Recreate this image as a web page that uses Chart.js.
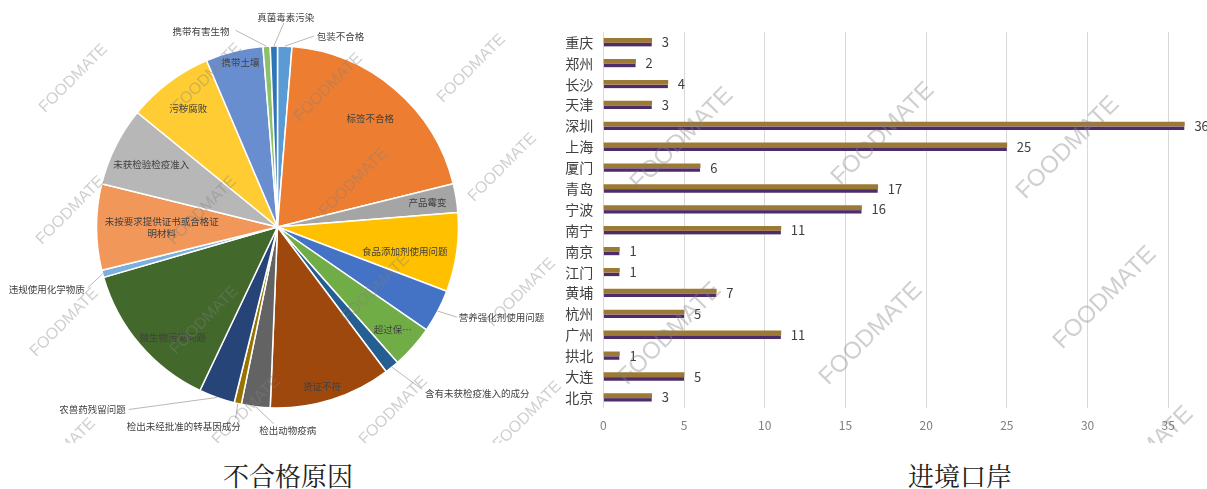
<!DOCTYPE html>
<html>
<head>
<meta charset="utf-8">
<script src="https://cdn.jsdelivr.net/npm/chart.js"></script>
<style>
  html, body { margin: 0; padding: 0; background: #fff; overflow: hidden; }
  body { width: 1207px; height: 489px; position: relative; }
  canvas { position: absolute; top: 0; }
  #pieChart { left: 0; }
  #portChart { left: 560px; }
  .title { position: absolute; top: 456px; font-family: "Noto Serif CJK SC", "Noto Sans CJK SC", serif; font-size: 26px; color: #222; transform: translateX(-50%); white-space: nowrap; }
  #marks { position: absolute; left: 0; top: 0; width: 1207px; height: 443px; overflow: hidden; pointer-events: none; }
  .wm { position: absolute; font-family: "Liberation Sans", Arial, sans-serif; color: rgba(128, 128, 128, 0.38); white-space: nowrap; transform: translate(-50%, -50%) rotate(-45deg); }
</style>
</head>
<body>
<canvas id="pieChart" width="560" height="443"></canvas>
<canvas id="portChart" width="647" height="443"></canvas>
<div class="title" style="left:288px">不合格原因</div>
<div class="title" style="left:960px">进境口岸</div>
<div id="marks"></div>
<script>
// 不合格原因 (pie)
const reasonLabels = ['包装不合格', '标签不合格', '产品霉变', '食品添加剂使用问题', '营养强化剂使用问题',
    '超过保…', '含有未获检疫准入的成分', '货证不符', '检出动物疫病', '检出未经批准的转基因成分',
    '农兽药残留问题', '微生物污染问题', '违规使用化学物质', '未按要求提供证书或合格证明材料',
    '未获检验检疫准入', '污秽腐败', '携带土壤', '携带有害生物', '真菌毒素污染'];
const reasonCounts = [2, 31, 4, 11, 6, 6, 2, 17, 4, 1, 5, 21, 1, 12, 11, 12, 8, 1, 1];

// 进境口岸 (bars)
const portLabels = ['重庆', '郑州', '长沙', '天津', '深圳', '上海', '厦门', '青岛', '宁波', '南宁',
    '南京', '江门', '黄埔', '杭州', '广州', '拱北', '大连', '北京'];
const portCounts = [3, 2, 4, 3, 36, 25, 6, 17, 16, 11, 1, 1, 7, 5, 11, 1, 5, 3];

const FONT = '"Noto Sans CJK SC", sans-serif';

const sliceColors = ['#5B9BD5', '#ED7D31', '#A5A5A5', '#FFC000', '#4472C4', '#70AD47', '#255E91',
    '#9E480E', '#636363', '#997300', '#264478', '#43682B', '#7CAFDD', '#F1975A', '#B7B7B7',
    '#FFCD33', '#698ED0', '#8CC168', '#2E75B6'];

// label placement per slice: inside (k = fraction of radius) or outside with a leader line
const labelPlacement = [
    {out: true, dx: 32, dy: -10, lx: 29, ly: -10, align: 'left'},
    {k: 0.79},
    {k: 0.84},
    {k: 0.71, dy: 6},
    {out: true, dx: 21, dy: 6, lx: 19, ly: 6, align: 'left'},
    {k: 0.85},
    {out: true, dx: 33, dy: 26, lx: 30, ly: 22, align: 'left'},
    {k: 0.9, dx: -4, dy: 4},
    {out: true, dx: 32, dy: 24, lx: 18, ly: 17, align: 'center'},
    {out: true, dx: 3, dy: 23, lx: -2, ly: 15, align: 'right'},
    {out: true, dx: -91, dy: 12, lx: -88, ly: 12, align: 'right'},
    {k: 0.84, dx: 11, dy: 12},
    {out: true, dx: -18, dy: 16, lx: -15, ly: 14, align: 'right'},
    {k: 0.64},
    {k: 0.78},
    {k: 0.82},
    {k: 0.9, dx: 2, dy: -6},
    {out: true, dx: -37, dy: -15, lx: -31, ly: -16, align: 'right'},
    {out: true, dx: 12, dy: -29, lx: 10, ly: -23, align: 'center'}
];

const pieLabels = {
    id: 'pieLabels',
    afterDatasetsDraw(chart) {
        const ctx = chart.ctx;
        const arcs = chart.getDatasetMeta(0).data;
        ctx.save();
        ctx.font = '9.5px ' + FONT;
        ctx.fillStyle = '#404040';
        ctx.strokeStyle = '#A6A6A6';
        ctx.lineWidth = 0.8;
        ctx.textBaseline = 'middle';
        arcs.forEach(function(arc, i) {
            const p = labelPlacement[i];
            const mid = (arc.startAngle + arc.endAngle) / 2;
            const R = arc.outerRadius;
            const text = reasonLabels[i];
            if (p.out) {
                const ex = arc.x + Math.cos(mid) * R;
                const ey = arc.y + Math.sin(mid) * R;
                ctx.beginPath();
                ctx.moveTo(ex, ey);
                ctx.lineTo(ex + p.lx, ey + p.ly);
                ctx.stroke();
                ctx.textAlign = p.align;
                ctx.fillText(text, ex + p.dx, ey + p.dy);
            } else {
                const cx = arc.x + Math.cos(mid) * R * p.k + (p.dx || 0);
                const cy = arc.y + Math.sin(mid) * R * p.k + (p.dy || 0);
                const lines = text.length > 12 ? [text.slice(0, 12), text.slice(12)] : [text];
                ctx.textAlign = 'center';
                lines.forEach(function(line, j) {
                    ctx.fillText(line, cx, cy + (j - (lines.length - 1) / 2) * 12);
                });
            }
        });
        ctx.restore();
    }
};

new Chart(document.getElementById('pieChart'), {
    type: 'pie',
    data: {
        labels: reasonLabels,
        datasets: [{
            data: reasonCounts,
            backgroundColor: sliceColors,
            borderColor: '#ffffff',
            borderWidth: 1.5,
            radius: 181
        }]
    },
    options: {
        responsive: false,
        animation: false,
        layout: { padding: { top: 11, right: 5, bottom: 0, left: 0 } },
        plugins: { legend: { display: false }, tooltip: { enabled: false } }
    },
    plugins: [pieLabels]
});

const barValueLabels = {
    id: 'barValueLabels',
    afterDatasetsDraw(chart) {
        const ctx = chart.ctx;
        const xs = chart.scales.x, ys = chart.scales.y;
        ctx.save();
        ctx.font = '13px ' + FONT;
        ctx.fillStyle = '#404040';
        ctx.textAlign = 'left';
        ctx.textBaseline = 'middle';
        portCounts.forEach(function(v, i) {
            ctx.fillText(String(v), xs.getPixelForValue(v) + 10, ys.getPixelForValue(i));
        });
        ctx.restore();
    }
};

new Chart(document.getElementById('portChart'), {
    type: 'bar',
    data: {
        labels: portLabels,
        datasets: [
            {
                label: '进境口岸',
                data: portCounts,
                backgroundColor: '#9C7A35',
                barThickness: 4
            },
            {
                label: '进境口岸',
                data: portCounts,
                backgroundColor: '#4C2C69',
                borderColor: '#C7A9B4',
                borderWidth: { top: 1, right: 0, bottom: 0, left: 0 },
                borderSkipped: false,
                barThickness: 4
            }
        ]
    },
    options: {
        indexAxis: 'y',
        responsive: false,
        animation: false,
        layout: { padding: { top: 32, right: 0, bottom: 0, left: 0 } },
        plugins: { legend: { display: false }, tooltip: { enabled: false } },
        scales: {
            x: {
                min: 0,
                max: 37.4,
                ticks: {
                    stepSize: 5,
                    includeBounds: false,
                    color: '#7F7F7F',
                    font: { size: 12, family: FONT },
                    padding: 10,
                    maxRotation: 0
                },
                grid: { color: '#D9D9D9', drawTicks: false },
                border: { display: false },
                afterFit: function(s) { s.height = 35; }
            },
            y: {
                ticks: {
                    color: '#404040',
                    font: { size: 14, family: FONT },
                    padding: 10
                },
                grid: { display: false, drawTicks: false },
                border: { display: false },
                afterFit: function(s) { s.width = 43.3; }
            }
        }
    },
    plugins: [barValueLabels]
});

// FOODMATE watermarks
const marks = [
    [73, 78, 16], [207, 77, 16], [328, 87, 16], [471, 68, 16], [353, 182, 16], [502, 167, 16],
    [70, 210, 16], [202, 210, 16], [64, 322, 16], [204, 320, 16], [375, 288, 16], [521, 292, 16],
    [246, 410, 16], [393, 410, 16], [527, 415, 16], [61, 452, 16],
    [681, 138, 24], [882, 133, 24], [1067, 147, 24], [669, 333, 24], [870, 333, 24],
    [1104, 297, 24], [1141, 457, 24]
];
const holder = document.getElementById('marks');
marks.forEach(function(m) {
    const d = document.createElement('div');
    d.className = 'wm';
    d.textContent = 'FOODMATE';
    d.style.left = m[0] + 'px';
    d.style.top = m[1] + 'px';
    d.style.fontSize = m[2] + 'px';
    holder.appendChild(d);
});
</script>
</body>
</html>
